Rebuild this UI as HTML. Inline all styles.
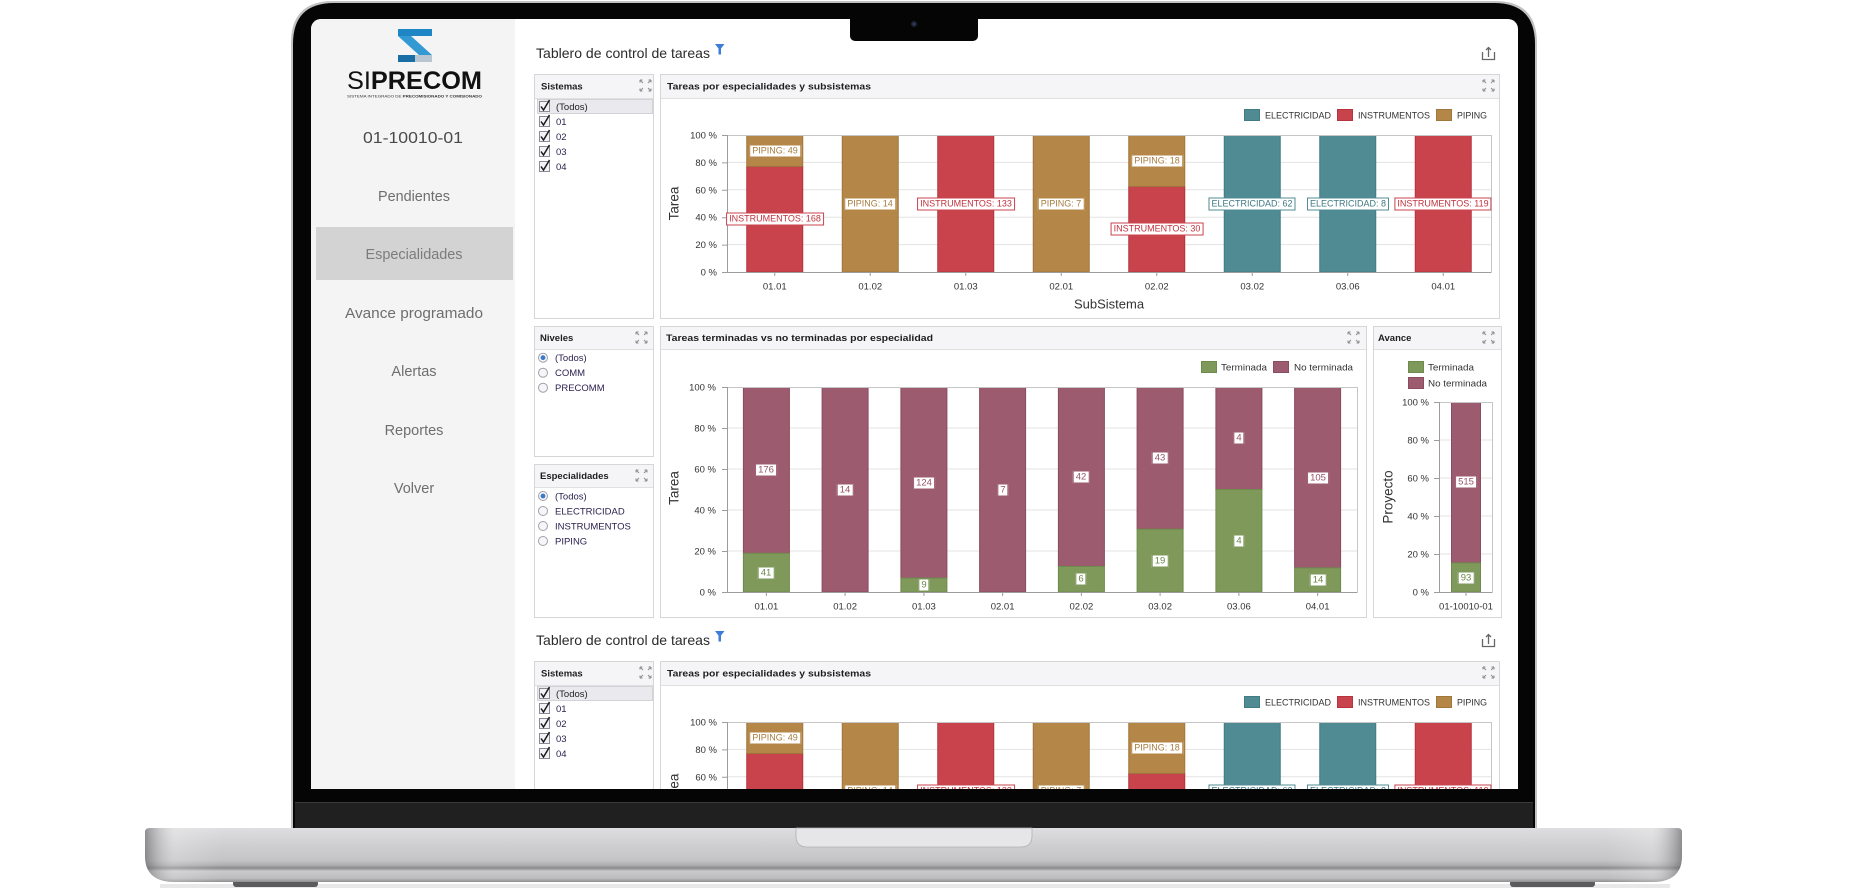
<!DOCTYPE html>
<html style="width:1868px;height:894px;overflow:hidden"><head><meta charset="utf-8">
<style>
*{margin:0;padding:0}
html{width:1868px;height:894px;overflow:hidden;background:#fff}
body{width:1868px;height:894px;overflow:hidden;background:#fff;font-family:"Liberation Sans",Arial,sans-serif;position:relative}
svg{position:absolute;left:0;top:0}
#scr{position:absolute;left:0;top:0;width:1868px;height:894px;overflow:hidden;clip-path:inset(19px 350px 105px 311px round 10px 10px 0 0);background:#fff}
.w{position:absolute;left:0;top:0;width:1868px;height:894px;overflow:hidden}
.lb{position:absolute;transform:translate(-50%,-50%);background:#fff;border:1px solid;padding:0 2px;font-size:9px;line-height:11px;white-space:nowrap}
.p{color:#a67c40;border-color:#b48748}
.i{color:#c0313d;border-color:#c9434d}
.e{color:#3e7882;border-color:#508b94}
.t{color:#6a8748;border-color:#7f995b;font-size:9.5px}
.n{color:#955268;border-color:#9d5b6f;font-size:9.5px}
</style></head><body>

<!-- LAPTOP BODY -->
<svg width="1868" height="894">
<defs>
<linearGradient id="gb" x1="0" y1="0" x2="0" y2="1">
<stop offset="0" stop-color="#dedee0"/><stop offset=".3" stop-color="#d0d0d2"/><stop offset=".6" stop-color="#c4c4c6"/><stop offset=".69" stop-color="#aeaeb0"/><stop offset=".74" stop-color="#8a8a8c"/><stop offset=".8" stop-color="#cacacc"/><stop offset=".93" stop-color="#bcbcbe"/><stop offset="1" stop-color="#8f8f91"/>
</linearGradient>
<linearGradient id="ge" x1="0" y1="0" x2="1" y2="0">
<stop offset="0" stop-color="#5d5d60" stop-opacity=".6"/><stop offset=".02" stop-color="#ffffff" stop-opacity=".2"/><stop offset=".05" stop-color="#ffffff" stop-opacity="0"/><stop offset=".95" stop-color="#ffffff" stop-opacity="0"/><stop offset=".98" stop-color="#ffffff" stop-opacity=".2"/><stop offset="1" stop-color="#5d5d60" stop-opacity=".6"/>
</linearGradient>
<g id="ex" fill="none" stroke="#8c8c8c" stroke-width="1"><path d="M0 0l3 3M0 0h2.5M0 0v2.5M11 0l-3 3M11 0h-2.5M11 0v2.5M0 11l3-3M0 11h2.5M0 11v-2.5M11 11l-3-3M11 11h-2.5M11 11v-2.5"/></g>
</defs>
<rect x="160" y="884" width="1510" height="4" fill="#e8e8e8"/>
<rect x="233" y="880" width="85" height="7" rx="3" fill="#5b5b5d"/>
<rect x="1510" y="880" width="85" height="7" rx="3" fill="#5b5b5d"/>
<path d="M145 832Q145 828 150 828H1677Q1682 828 1682 832V856Q1682 882 1652 882H175Q145 882 145 856Z" fill="url(#gb)"/>
<path d="M145 832Q145 828 150 828H1677Q1682 828 1682 832V856Q1682 882 1652 882H175Q145 882 145 856Z" fill="url(#ge)"/>
<path d="M291 828V43Q291 1 333 1H1495Q1537 1 1537 43V828Z" fill="#c2c2c4"/>
<path d="M293 828V44Q293 3 334 3H1494Q1535 3 1535 44V828Z" fill="#050505"/>
<rect x="295" y="802" width="1238" height="26" fill="#202020"/>
<path d="M295 802.5H1533" stroke="#3a3a3a"/>
<path d="M796 828H1032V836Q1032 847 1021 847H807Q796 847 796 836Z" fill="#e6e6e8" stroke="#b0b0b2" stroke-width=".8"/>
</svg>

<div id="scr">
<!-- SIDEBAR -->
<svg width="1868" height="894">
<rect x="311" y="19" width="204" height="770" fill="#f4f4f4"/>
<rect x="316" y="227" width="197" height="53" fill="#d3d3d3"/>
<rect x="398" y="29" width="34" height="7" fill="#1f86c6"/>
<polygon points="398,36 411,36 432,55 419,55" fill="#3399d3"/>
<rect x="398" y="55" width="34" height="7" fill="#1a6ea6"/>
<rect x="415" y="55" width="17" height="7" fill="#b9c6d1"/>
<text x="347" y="89" font-size="25" fill="#111" textLength="135" lengthAdjust="spacingAndGlyphs">SI<tspan font-weight="bold">PRECOM</tspan></text>
<text x="347" y="97.5" font-size="4" fill="#333" textLength="135" lengthAdjust="spacingAndGlyphs">SISTEMA INTEGRADO DE <tspan font-weight="bold">PRECOMISIONADO Y COMISIONADO</tspan></text>
<text x="413" y="143" font-size="15.5" fill="#4a4a4a" text-anchor="middle" textLength="100" lengthAdjust="spacingAndGlyphs">01-10010-01</text>
<g font-size="14.5" fill="#6e6e6e" text-anchor="middle">
<text x="414" y="201" textLength="72" lengthAdjust="spacingAndGlyphs">Pendientes</text>
<text x="414" y="259" fill="#7c7c7c" textLength="97" lengthAdjust="spacingAndGlyphs">Especialidades</text>
<text x="414" y="318" textLength="138" lengthAdjust="spacingAndGlyphs">Avance programado</text>
<text x="414" y="376">Alertas</text>
<text x="414" y="435">Reportes</text>
<text x="414" y="493">Volver</text>
</g>
</svg>

<!-- DASHBOARD 1 -->
<div class="w">
<svg width="1868" height="340">
<text x="536" y="58" font-size="14" fill="#2b2b2b" textLength="174" lengthAdjust="spacingAndGlyphs">Tablero de control de tareas</text>
<path d="M715 44H724.5L721 48.5V54.5H718.5V48.5Z" fill="#3b7dd8"/>
<g fill="none" stroke="#666" stroke-width="1.3"><path d="M1482.5 52V59.5H1494.5V52"/><path d="M1488.5 57V47.5M1486 50L1488.5 47.5L1491 50"/></g>
<rect x="534.5" y="74.5" width="119" height="244" fill="#fff" stroke="#d6d6d6"/>
<rect x="535" y="75" width="118" height="23" fill="#f5f5f7"/>
<path d="M535 98.5H653" stroke="#e0e0e0"/>
<text x="541" y="89.5" font-size="9.5" font-weight="bold" fill="#1e1e1e">Sistemas</text>
<use href="#ex" x="640" y="80"/>
<rect x="537.5" y="99.5" width="115" height="14" fill="#e9e9ee" stroke="#d2d2d8"/>
<g fill="#f3f3f6" stroke="#8a8a98"><rect x="539.5" y="101.5" width="10" height="10"/><rect x="539.5" y="116.5" width="10" height="10"/><rect x="539.5" y="131.5" width="10" height="10"/><rect x="539.5" y="146.5" width="10" height="10"/><rect x="539.5" y="161.5" width="10" height="10"/></g>
<g fill="none" stroke="#1a1a1a" stroke-width="1.5"><path d="M541 106.5l2.5 3.5 6-10"/><path d="M541 121.5l2.5 3.5 6-10"/><path d="M541 136.5l2.5 3.5 6-10"/><path d="M541 151.5l2.5 3.5 6-10"/><path d="M541 166.5l2.5 3.5 6-10"/></g>
<g font-size="9.5" fill="#2e2250"><text x="556" y="110" fill="#222">(Todos)</text><text x="556" y="125">01</text><text x="556" y="140">02</text><text x="556" y="155">03</text><text x="556" y="170">04</text></g>

<rect x="660.5" y="74.5" width="839" height="244" fill="#fff" stroke="#d6d6d6"/>
<rect x="661" y="75" width="838" height="23" fill="#f5f5f7"/>
<path d="M661 98.5H1499" stroke="#e0e0e0"/>
<text x="667" y="89.5" font-size="9.5" font-weight="bold" fill="#1e1e1e" textLength="204" lengthAdjust="spacingAndGlyphs">Tareas por especialidades y subsistemas</text>
<use href="#ex" x="1483" y="80"/>
<rect x="1244.5" y="109.5" width="15" height="11" fill="#508b94" stroke="#437b84"/>
<text x="1265" y="118.5" font-size="9" fill="#333" textLength="66" lengthAdjust="spacingAndGlyphs">ELECTRICIDAD</text>
<rect x="1337.5" y="109.5" width="15" height="11" fill="#c9434d" stroke="#b3353f"/>
<text x="1358" y="118.5" font-size="9" fill="#333" textLength="72" lengthAdjust="spacingAndGlyphs">INSTRUMENTOS</text>
<rect x="1436.5" y="109.5" width="15" height="11" fill="#b48748" stroke="#a0773b"/>
<text x="1457" y="118.5" font-size="9" fill="#333" textLength="30" lengthAdjust="spacingAndGlyphs">PIPING</text>
<path d="M727 162.4H1491M727 189.8H1491M727 217.2H1491M727 244.6H1491" stroke="#e3e3e3"/>
<g stroke-width="1">
<rect x="746.75" y="166.4" width="56" height="105.6" fill="#c9434d" stroke="#b3353f"/>
<rect x="746.75" y="135.5" width="56" height="30.9" fill="#b48748" stroke="#a0773b"/>
<rect x="842.25" y="135.5" width="56" height="136.5" fill="#b48748" stroke="#a0773b"/>
<rect x="937.75" y="135.5" width="56" height="136.5" fill="#c9434d" stroke="#b3353f"/>
<rect x="1033.25" y="135.5" width="56" height="136.5" fill="#b48748" stroke="#a0773b"/>
<rect x="1128.75" y="186.4" width="56" height="85.6" fill="#c9434d" stroke="#b3353f"/>
<rect x="1128.75" y="135.5" width="56" height="50.9" fill="#b48748" stroke="#a0773b"/>
<rect x="1224.25" y="135.5" width="56" height="136.5" fill="#508b94" stroke="#437b84"/>
<rect x="1319.75" y="135.5" width="56" height="136.5" fill="#508b94" stroke="#437b84"/>
<rect x="1415.25" y="135.5" width="56" height="136.5" fill="#c9434d" stroke="#b3353f"/>
</g>
<path d="M727.5 135.5H1491.5V272" stroke="#c6c6c6" fill="none"/>
<path d="M727.5 135V272.5H1491.5" stroke="#9c9c9c" fill="none"/>
<path d="M722 135.5h5M722 162.9h5M722 190.3h5M722 217.7h5M722 245.1h5M722 272.5h5M774.75 272v4M870.25 272v4M965.75 272v4M1061.25 272v4M1156.75 272v4M1252.25 272v4M1347.75 272v4M1443.25 272v4" stroke="#9c9c9c"/>
<g font-size="9.5" fill="#333" text-anchor="end">
<text x="717" y="138.5">100 %</text><text x="717" y="165.9">80 %</text><text x="717" y="193.3">60 %</text><text x="717" y="220.7">40 %</text><text x="717" y="248.1">20 %</text><text x="717" y="275.5">0 %</text>
</g>
<g font-size="9.5" fill="#333" text-anchor="middle">
<text x="774.75" y="289.5">01.01</text><text x="870.25" y="289.5">01.02</text><text x="965.75" y="289.5">01.03</text><text x="1061.25" y="289.5">02.01</text><text x="1156.75" y="289.5">02.02</text><text x="1252.25" y="289.5">03.02</text><text x="1347.75" y="289.5">03.06</text><text x="1443.25" y="289.5">04.01</text>
</g>
<text transform="translate(678.5,203.5) rotate(-90)" text-anchor="middle" font-size="13.5" fill="#333">Tarea</text>
<text x="1109" y="308.5" text-anchor="middle" font-size="13" fill="#333">SubSistema</text>
</svg>
<div class="lb p" style="left:775px;top:150.5px">PIPING: 49</div>
<div class="lb i" style="left:775px;top:219px">INSTRUMENTOS: 168</div>
<div class="lb p" style="left:870px;top:203.5px">PIPING: 14</div>
<div class="lb i" style="left:966px;top:203.5px">INSTRUMENTOS: 133</div>
<div class="lb p" style="left:1061px;top:203.5px">PIPING: 7</div>
<div class="lb p" style="left:1157px;top:160.7px">PIPING: 18</div>
<div class="lb i" style="left:1157px;top:229.2px">INSTRUMENTOS: 30</div>
<div class="lb e" style="left:1252px;top:203.5px">ELECTRICIDAD: 62</div>
<div class="lb e" style="left:1348px;top:203.5px">ELECTRICIDAD: 8</div>
<div class="lb i" style="left:1443px;top:203.5px">INSTRUMENTOS: 119</div>

<!-- second row -->
<svg width="1868" height="640">
<rect x="534.5" y="326.5" width="119" height="130" fill="#fff" stroke="#d6d6d6"/>
<rect x="535" y="327" width="118" height="22" fill="#f5f5f7"/>
<path d="M535 349.5H653" stroke="#e0e0e0"/>
<text x="540" y="341" font-size="9.5" font-weight="bold" fill="#1e1e1e">Niveles</text>
<use href="#ex" x="636" y="332"/>
<rect x="534.5" y="464.5" width="119" height="153" fill="#fff" stroke="#d6d6d6"/>
<rect x="535" y="465" width="118" height="22" fill="#f5f5f7"/>
<path d="M535 487.5H653" stroke="#e0e0e0"/>
<text x="540" y="479" font-size="9.5" font-weight="bold" fill="#1e1e1e">Especialidades</text>
<use href="#ex" x="636" y="470"/>
<g fill="#f6f6f8" stroke="#a0a0ac"><circle cx="543" cy="357.7" r="4.5"/><circle cx="543" cy="372.7" r="4.5"/><circle cx="543" cy="387.7" r="4.5"/><circle cx="543" cy="496" r="4.5"/><circle cx="543" cy="511" r="4.5"/><circle cx="543" cy="526" r="4.5"/><circle cx="543" cy="541" r="4.5"/></g>
<circle cx="543" cy="357.7" r="2.4" fill="#3c78c8"/><circle cx="543" cy="496" r="2.4" fill="#3c78c8"/>
<g font-size="9.5" fill="#2e2250">
<text x="555" y="361">(Todos)</text><text x="555" y="376">COMM</text><text x="555" y="391">PRECOMM</text>
<text x="555" y="499.3">(Todos)</text><text x="555" y="514.3">ELECTRICIDAD</text><text x="555" y="529.3">INSTRUMENTOS</text><text x="555" y="544.3">PIPING</text>
</g>

<rect x="660.5" y="326.5" width="706" height="291" fill="#fff" stroke="#d6d6d6"/>
<rect x="661" y="327" width="705" height="22" fill="#f5f5f7"/>
<path d="M661 349.5H1366" stroke="#e0e0e0"/>
<text x="666" y="341" font-size="9.5" font-weight="bold" fill="#1e1e1e" textLength="267" lengthAdjust="spacingAndGlyphs">Tareas terminadas vs no terminadas por especialidad</text>
<use href="#ex" x="1348" y="332"/>
<rect x="1201.5" y="361.5" width="15" height="11" fill="#7f995b" stroke="#6e8a4c"/>
<text x="1221" y="370.5" font-size="9.5" fill="#333" textLength="46" lengthAdjust="spacingAndGlyphs">Terminada</text>
<rect x="1273.5" y="361.5" width="15" height="11" fill="#9d5b6f" stroke="#8b4b60"/>
<text x="1294" y="370.5" font-size="9.5" fill="#333" textLength="59" lengthAdjust="spacingAndGlyphs">No terminada</text>
<path d="M727 428H1357M727 469H1357M727 510H1357M727 551H1357" stroke="#e3e3e3"/>
<g>
<rect x="743.4" y="387.5" width="46" height="165.8" fill="#9d5b6f" stroke="#8b4b60"/>
<rect x="743.4" y="553.3" width="46" height="38.7" fill="#7f995b" stroke="#6e8a4c"/>
<rect x="822.1" y="387.5" width="46" height="204.5" fill="#9d5b6f" stroke="#8b4b60"/>
<rect x="900.9" y="387.5" width="46" height="190.6" fill="#9d5b6f" stroke="#8b4b60"/>
<rect x="900.9" y="578.1" width="46" height="13.9" fill="#7f995b" stroke="#6e8a4c"/>
<rect x="979.6" y="387.5" width="46" height="204.5" fill="#9d5b6f" stroke="#8b4b60"/>
<rect x="1058.4" y="387.5" width="46" height="178.9" fill="#9d5b6f" stroke="#8b4b60"/>
<rect x="1058.4" y="566.4" width="46" height="25.6" fill="#7f995b" stroke="#6e8a4c"/>
<rect x="1137.1" y="387.5" width="46" height="141.7" fill="#9d5b6f" stroke="#8b4b60"/>
<rect x="1137.1" y="529.2" width="46" height="62.8" fill="#7f995b" stroke="#6e8a4c"/>
<rect x="1215.9" y="387.5" width="46" height="102" fill="#9d5b6f" stroke="#8b4b60"/>
<rect x="1215.9" y="489.5" width="46" height="102.5" fill="#7f995b" stroke="#6e8a4c"/>
<rect x="1294.6" y="387.5" width="46" height="180.4" fill="#9d5b6f" stroke="#8b4b60"/>
<rect x="1294.6" y="567.9" width="46" height="24.1" fill="#7f995b" stroke="#6e8a4c"/>
</g>
<path d="M727.5 387.5H1357.5V592" stroke="#c6c6c6" fill="none"/>
<path d="M727.5 387V592.5H1357.5" stroke="#9c9c9c" fill="none"/>
<path d="M722 387.5h5M722 428.5h5M722 469.5h5M722 510.5h5M722 551.5h5M722 592.5h5M766.4 592v4M845.1 592v4M923.9 592v4M1002.6 592v4M1081.4 592v4M1160.1 592v4M1238.9 592v4M1317.6 592v4" stroke="#9c9c9c"/>
<g font-size="9.5" fill="#333" text-anchor="end">
<text x="716" y="390.5">100 %</text><text x="716" y="431.5">80 %</text><text x="716" y="472.5">60 %</text><text x="716" y="513.5">40 %</text><text x="716" y="554.5">20 %</text><text x="716" y="595.5">0 %</text>
</g>
<g font-size="9.5" fill="#333" text-anchor="middle">
<text x="766.4" y="609.5">01.01</text><text x="845.1" y="609.5">01.02</text><text x="923.9" y="609.5">01.03</text><text x="1002.6" y="609.5">02.01</text><text x="1081.4" y="609.5">02.02</text><text x="1160.1" y="609.5">03.02</text><text x="1238.9" y="609.5">03.06</text><text x="1317.6" y="609.5">04.01</text>
</g>
<text transform="translate(678.5,488) rotate(-90)" text-anchor="middle" font-size="13.5" fill="#333">Tarea</text>

<rect x="1373.5" y="326.5" width="128" height="291" fill="#fff" stroke="#d6d6d6"/>
<rect x="1374" y="327" width="127" height="22" fill="#f5f5f7"/>
<path d="M1374 349.5H1501" stroke="#e0e0e0"/>
<text x="1378" y="341" font-size="9.5" font-weight="bold" fill="#1e1e1e">Avance</text>
<use href="#ex" x="1483" y="332"/>
<rect x="1408.5" y="361.5" width="15" height="11" fill="#7f995b" stroke="#6e8a4c"/>
<text x="1428" y="370.5" font-size="9.5" fill="#333" textLength="46" lengthAdjust="spacingAndGlyphs">Terminada</text>
<rect x="1408.5" y="377.5" width="15" height="11" fill="#9d5b6f" stroke="#8b4b60"/>
<text x="1428" y="386.5" font-size="9.5" fill="#333" textLength="59" lengthAdjust="spacingAndGlyphs">No terminada</text>
<path d="M1439 440H1492M1439 478H1492M1439 516H1492M1439 554H1492" stroke="#e3e3e3"/>
<rect x="1451.5" y="402.5" width="29" height="160.4" fill="#9d5b6f" stroke="#8b4b60"/>
<rect x="1451.5" y="562.9" width="29" height="29.1" fill="#7f995b" stroke="#6e8a4c"/>
<path d="M1439.5 402.5H1492.5V592" stroke="#c6c6c6" fill="none"/>
<path d="M1439.5 402V592.5H1492.5" stroke="#9c9c9c" fill="none"/>
<path d="M1434 402.5h5M1434 440.5h5M1434 478.5h5M1434 516.5h5M1434 554.5h5M1434 592.5h5M1466 592v4" stroke="#9c9c9c"/>
<g font-size="9.5" fill="#333" text-anchor="end">
<text x="1429" y="405.5">100 %</text><text x="1429" y="443.5">80 %</text><text x="1429" y="481.5">60 %</text><text x="1429" y="519.5">40 %</text><text x="1429" y="557.5">20 %</text><text x="1429" y="595.5">0 %</text>
</g>
<text x="1466" y="609.5" font-size="9.5" fill="#333" text-anchor="middle">01-10010-01</text>
<text transform="translate(1392.5,497) rotate(-90)" text-anchor="middle" font-size="13.5" fill="#333">Proyecto</text>
</svg>
<div class="lb n" style="left:766px;top:470.2px">176</div>
<div class="lb t" style="left:766px;top:572.7px">41</div>
<div class="lb n" style="left:845px;top:489.5px">14</div>
<div class="lb n" style="left:924px;top:482.5px">124</div>
<div class="lb t" style="left:924px;top:585px">9</div>
<div class="lb n" style="left:1003px;top:489.5px">7</div>
<div class="lb n" style="left:1081px;top:476.7px">42</div>
<div class="lb t" style="left:1081px;top:579.2px">6</div>
<div class="lb n" style="left:1160px;top:458.1px">43</div>
<div class="lb t" style="left:1160px;top:560.6px">19</div>
<div class="lb n" style="left:1239px;top:438.2px">4</div>
<div class="lb t" style="left:1239px;top:540.8px">4</div>
<div class="lb n" style="left:1318px;top:477.5px">105</div>
<div class="lb t" style="left:1318px;top:580px">14</div>
<div class="lb n" style="left:1466px;top:482.4px">515</div>
<div class="lb t" style="left:1466px;top:577.5px">93</div>
</div>

<!-- DASHBOARD 2 (partially visible) -->
<div class="w" style="top:587px;height:210px">
<svg width="1868" height="210">
<text x="536" y="58" font-size="14" fill="#2b2b2b" textLength="174" lengthAdjust="spacingAndGlyphs">Tablero de control de tareas</text>
<path d="M715 44H724.5L721 48.5V54.5H718.5V48.5Z" fill="#3b7dd8"/>
<g fill="none" stroke="#666" stroke-width="1.3"><path d="M1482.5 52V59.5H1494.5V52"/><path d="M1488.5 57V47.5M1486 50L1488.5 47.5L1491 50"/></g>
<rect x="534.5" y="74.5" width="119" height="244" fill="#fff" stroke="#d6d6d6"/>
<rect x="535" y="75" width="118" height="23" fill="#f5f5f7"/>
<path d="M535 98.5H653" stroke="#e0e0e0"/>
<text x="541" y="89.5" font-size="9.5" font-weight="bold" fill="#1e1e1e">Sistemas</text>
<use href="#ex" x="640" y="80"/>
<rect x="537.5" y="99.5" width="115" height="14" fill="#e9e9ee" stroke="#d2d2d8"/>
<g fill="#f3f3f6" stroke="#8a8a98"><rect x="539.5" y="101.5" width="10" height="10"/><rect x="539.5" y="116.5" width="10" height="10"/><rect x="539.5" y="131.5" width="10" height="10"/><rect x="539.5" y="146.5" width="10" height="10"/><rect x="539.5" y="161.5" width="10" height="10"/></g>
<g fill="none" stroke="#1a1a1a" stroke-width="1.5"><path d="M541 106.5l2.5 3.5 6-10"/><path d="M541 121.5l2.5 3.5 6-10"/><path d="M541 136.5l2.5 3.5 6-10"/><path d="M541 151.5l2.5 3.5 6-10"/><path d="M541 166.5l2.5 3.5 6-10"/></g>
<g font-size="9.5" fill="#2e2250"><text x="556" y="110" fill="#222">(Todos)</text><text x="556" y="125">01</text><text x="556" y="140">02</text><text x="556" y="155">03</text><text x="556" y="170">04</text></g>
<rect x="660.5" y="74.5" width="839" height="244" fill="#fff" stroke="#d6d6d6"/>
<rect x="661" y="75" width="838" height="23" fill="#f5f5f7"/>
<path d="M661 98.5H1499" stroke="#e0e0e0"/>
<text x="667" y="89.5" font-size="9.5" font-weight="bold" fill="#1e1e1e" textLength="204" lengthAdjust="spacingAndGlyphs">Tareas por especialidades y subsistemas</text>
<use href="#ex" x="1483" y="80"/>
<rect x="1244.5" y="109.5" width="15" height="11" fill="#508b94" stroke="#437b84"/>
<text x="1265" y="118.5" font-size="9" fill="#333" textLength="66" lengthAdjust="spacingAndGlyphs">ELECTRICIDAD</text>
<rect x="1337.5" y="109.5" width="15" height="11" fill="#c9434d" stroke="#b3353f"/>
<text x="1358" y="118.5" font-size="9" fill="#333" textLength="72" lengthAdjust="spacingAndGlyphs">INSTRUMENTOS</text>
<rect x="1436.5" y="109.5" width="15" height="11" fill="#b48748" stroke="#a0773b"/>
<text x="1457" y="118.5" font-size="9" fill="#333" textLength="30" lengthAdjust="spacingAndGlyphs">PIPING</text>
<path d="M727 162.4H1491M727 189.8H1491" stroke="#e3e3e3"/>
<rect x="746.75" y="166.4" width="56" height="105.6" fill="#c9434d" stroke="#b3353f"/>
<rect x="746.75" y="135.5" width="56" height="30.9" fill="#b48748" stroke="#a0773b"/>
<rect x="842.25" y="135.5" width="56" height="136.5" fill="#b48748" stroke="#a0773b"/>
<rect x="937.75" y="135.5" width="56" height="136.5" fill="#c9434d" stroke="#b3353f"/>
<rect x="1033.25" y="135.5" width="56" height="136.5" fill="#b48748" stroke="#a0773b"/>
<rect x="1128.75" y="186.4" width="56" height="85.6" fill="#c9434d" stroke="#b3353f"/>
<rect x="1128.75" y="135.5" width="56" height="50.9" fill="#b48748" stroke="#a0773b"/>
<rect x="1224.25" y="135.5" width="56" height="136.5" fill="#508b94" stroke="#437b84"/>
<rect x="1319.75" y="135.5" width="56" height="136.5" fill="#508b94" stroke="#437b84"/>
<rect x="1415.25" y="135.5" width="56" height="136.5" fill="#c9434d" stroke="#b3353f"/>
<path d="M727.5 135.5H1491.5V272" stroke="#c6c6c6" fill="none"/>
<path d="M727.5 135V272.5" stroke="#9c9c9c" fill="none"/>
<path d="M722 135.5h5M722 162.9h5M722 190.3h5" stroke="#9c9c9c"/>
<g font-size="9.5" fill="#333" text-anchor="end">
<text x="717" y="138.5">100 %</text><text x="717" y="165.9">80 %</text><text x="717" y="193.3">60 %</text>
</g>
<text transform="translate(678.5,203.5) rotate(-90)" text-anchor="middle" font-size="13.5" fill="#333">Tarea</text>
</svg>
<div class="lb p" style="left:775px;top:150.5px">PIPING: 49</div>
<div class="lb p" style="left:870px;top:203.5px">PIPING: 14</div>
<div class="lb i" style="left:966px;top:203.5px">INSTRUMENTOS: 133</div>
<div class="lb p" style="left:1061px;top:203.5px">PIPING: 7</div>
<div class="lb p" style="left:1157px;top:160.7px">PIPING: 18</div>
<div class="lb e" style="left:1252px;top:203.5px">ELECTRICIDAD: 62</div>
<div class="lb e" style="left:1348px;top:203.5px">ELECTRICIDAD: 8</div>
<div class="lb i" style="left:1443px;top:203.5px">INSTRUMENTOS: 119</div>
</div>
</div>

<!-- NOTCH -->
<svg width="1868" height="60">
<rect x="850" y="10" width="128" height="31" rx="5" fill="#050505"/>
<circle cx="914" cy="24" r="3" fill="#1b2233"/><circle cx="914" cy="24" r="1.3" fill="#34405e"/>
</svg>
</body></html>
